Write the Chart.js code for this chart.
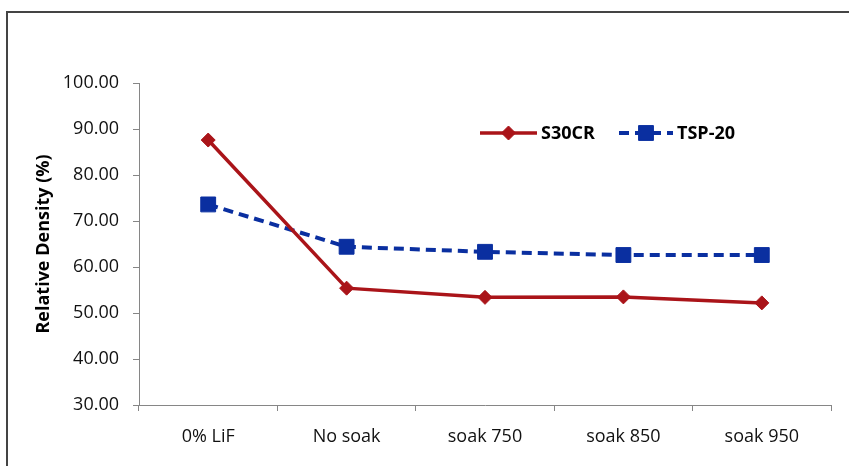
<!DOCTYPE html>
<html>
<head>
<meta charset="utf-8">
<title>Relative Density</title>
<script src="https://cdn.jsdelivr.net/npm/chart.js@4/dist/chart.umd.min.js"></script>
<style>
  html, body { margin: 0; padding: 0; background: #fff; }
  #chart { display: block; }
</style>
</head>
<body>
<canvas id="chart" width="849" height="466"></canvas>
<script>
'use strict';

/* ── Data ─────────────────────────────────────────────────────────────── */
const categories  = ['0% LiF', 'No soak', 'soak 750', 'soak 850', 'soak 950'];
const s30crValues = [87.6, 55.4, 53.4, 53.5, 52.2];
const tsp20Values = [73.6, 64.4, 63.3, 62.6, 62.6];
const yTickValues = [30, 40, 50, 60, 70, 80, 90, 100];

const RED  = '#AA1419';
const BLUE = '#0A2FA0';
const AXIS = '#868686';
const FONT = '"Open Sans", "Liberation Sans", sans-serif';

/* ── Outer frame (partly off-canvas on the right and bottom) ─────────── */
const framePlugin = {
  id: 'frame',
  beforeDraw(chart) {
    const { ctx } = chart;
    ctx.save();
    ctx.fillStyle = '#fff';
    ctx.fillRect(0, 0, chart.width, chart.height);
    ctx.strokeStyle = '#444';
    ctx.lineWidth = 2;
    ctx.strokeRect(7, 12, chart.width + 40, chart.height + 40);
    ctx.restore();
  }
};

/* ── Legend: line + marker sample, then the series name ──────────────── */
const lineLegend = {
  id: 'lineLegend',
  afterDraw(chart) {
    const { ctx } = chart;
    const y = 133;
    const slots = [{ x0: 480, x1: 537 }, { x0: 619, x1: 673 }];
    ctx.save();
    chart.data.datasets.forEach((ds, i) => {
      const s = slots[i];
      ctx.strokeStyle = ds.borderColor;
      ctx.lineWidth = ds.borderWidth;
      ctx.setLineDash(ds.borderDash || []);
      ctx.beginPath();
      ctx.moveTo(s.x0, y);
      ctx.lineTo(s.x1, y);
      ctx.stroke();
      ctx.setLineDash([]);
      ctx.fillStyle = ds.borderColor;
      ctx.lineWidth = 1;
      Chart.helpers.drawPoint(ctx, {
        pointStyle: ds.pointStyle,
        radius: ds.pointRadius,
        borderWidth: 1
      }, (s.x0 + s.x1) / 2, y);
      ctx.fillStyle = '#000';
      ctx.font = 'bold 18px ' + FONT;
      ctx.textAlign = 'left';
      ctx.textBaseline = 'middle';
      ctx.fillText(ds.label, s.x1 + 4, y + 1);
    });
    ctx.restore();
  }
};

new Chart(document.getElementById('chart'), {
  type: 'line',
  data: {
    labels: categories,
    datasets: [
      {
        label: 'S30CR',
        data: s30crValues,
        borderColor: RED,
        backgroundColor: RED,
        pointBackgroundColor: RED,
        pointBorderColor: RED,
        borderWidth: 3.5,
        pointStyle: 'rectRot',
        pointRadius: 7,
        pointBorderWidth: 1,
        tension: 0
      },
      {
        label: 'TSP-20',
        data: tsp20Values,
        borderColor: BLUE,
        backgroundColor: BLUE,
        pointBackgroundColor: BLUE,
        pointBorderColor: BLUE,
        borderWidth: 4,
        borderDash: [10, 6],
        pointStyle: 'rect',
        pointRadius: 10.5,
        pointBorderWidth: 1,
        tension: 0
      }
    ]
  },
  options: {
    responsive: false,
    animation: false,
    layout: { padding: { top: 83, right: 18, left: 0, bottom: 0 } },
    plugins: {
      legend: { display: false },
      tooltip: { enabled: false }
    },
    scales: {
      x: {
        offset: true,
        grid: { offset: true, drawOnChartArea: false, tickLength: 6, color: AXIS },
        border: { color: AXIS, width: 1 },
        ticks: { color: '#111', padding: 15, font: { family: FONT, size: 18 } },
        afterFit(scale) { scale.height = 61; }
      },
      y: {
        min: 30,
        max: 100,
        afterBuildTicks(scale) { scale.ticks = yTickValues.map(v => ({ value: v })); },
        grid: { drawOnChartArea: false, tickLength: 6, color: AXIS },
        border: { color: AXIS, width: 1 },
        ticks: {
          color: '#111',
          padding: 14,
          font: { family: FONT, size: 18 },
          callback: v => Number(v).toFixed(2)
        },
        title: {
          display: true,
          text: 'Relative Density (%)',
          color: '#000',
          font: { family: FONT, size: 18, weight: 'bold' },
          padding: { top: 33, bottom: 0 }
        },
        afterFit(scale) { scale.width = 139; }
      }
    }
  },
  plugins: [framePlugin, lineLegend]
});
</script>
</body>
</html>
